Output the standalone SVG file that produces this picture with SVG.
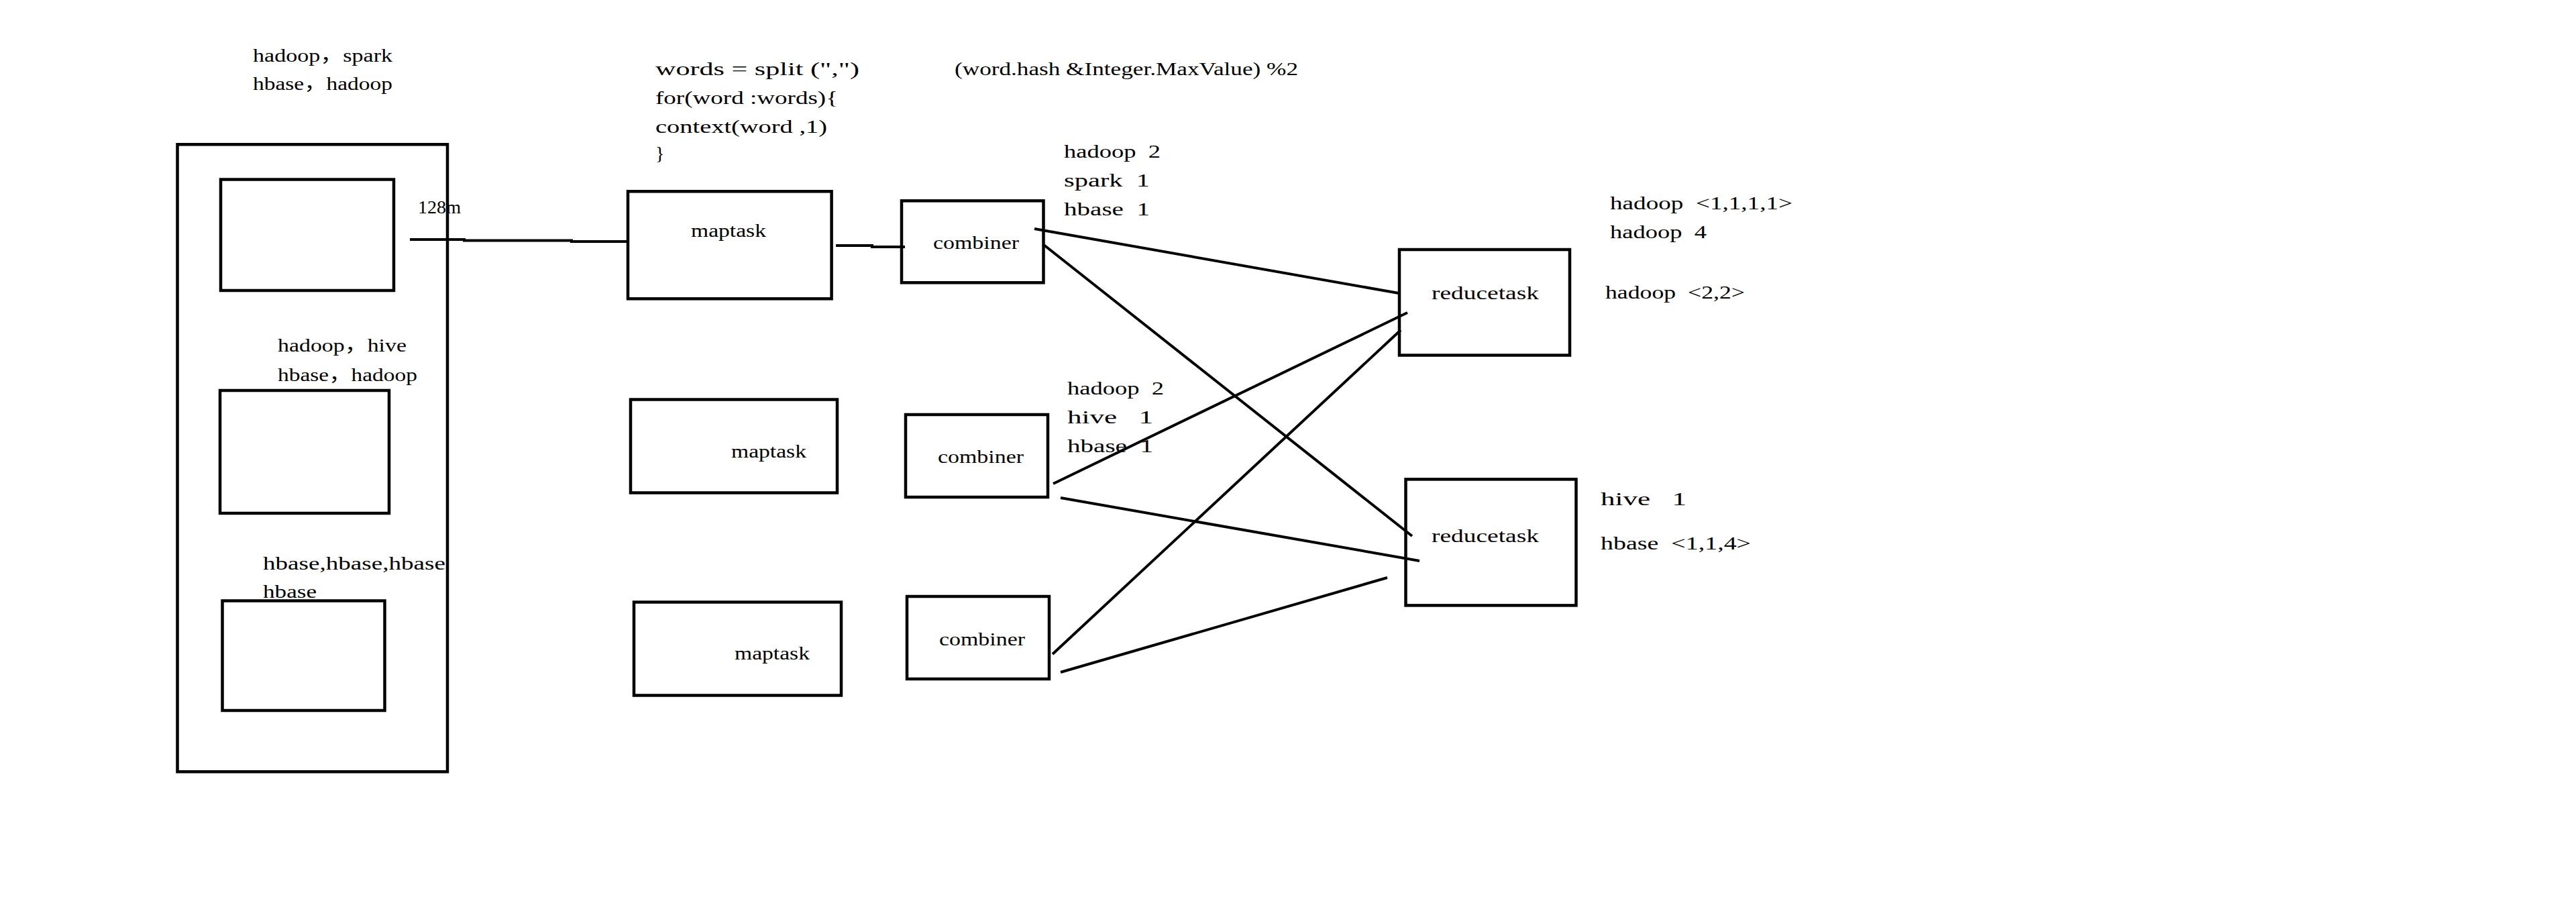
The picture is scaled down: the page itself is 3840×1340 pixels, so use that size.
<svg xmlns="http://www.w3.org/2000/svg" width="3840" height="1340" viewBox="0 0 3840 1340">
<style>
.box{fill:none;stroke:#000;stroke-width:4.5}
.ln{fill:none;stroke:#000;stroke-width:4;stroke-linecap:butt}
.t{font-family:"Liberation Serif","Noto Sans CJK SC",serif;font-size:28px;fill:#000;white-space:pre}
</style>
<rect x="0" y="0" width="3840" height="1340" fill="#fff"/>
<g id="hdfs-file">
<rect class="box" x="264.5" y="215.3" width="402.5" height="935"/>
</g>
<g id="block1">
<rect class="box" x="329" y="267.5" width="258" height="165.5"/>
<text class="t" x="377" y="92" textLength="208" lengthAdjust="spacingAndGlyphs">hadoop，spark</text>
<text class="t" x="377" y="134" textLength="208" lengthAdjust="spacingAndGlyphs">hbase，hadoop</text>
<text class="t" x="623" y="318" textLength="64" lengthAdjust="spacingAndGlyphs">128m</text>
</g>
<g id="block2">
<rect class="box" x="328" y="582" width="252" height="183"/>
<text class="t" x="414" y="524" textLength="192" lengthAdjust="spacingAndGlyphs">hadoop，hive</text>
<text class="t" x="414" y="568" textLength="208" lengthAdjust="spacingAndGlyphs">hbase，hadoop</text>
</g>
<g id="block3">
<rect class="box" x="331.5" y="895.5" width="242" height="163.5"/>
<text class="t" x="392" y="849" textLength="272" lengthAdjust="spacingAndGlyphs">hbase,hbase,hbase</text>
<text class="t" x="392" y="891" textLength="80" lengthAdjust="spacingAndGlyphs">hbase</text>
</g>
<g id="map-code">
<text class="t" x="977" y="112" textLength="304" lengthAdjust="spacingAndGlyphs">words = split (",")</text>
<text class="t" x="977" y="155" textLength="272" lengthAdjust="spacingAndGlyphs">for(word :words){</text>
<text class="t" x="977" y="198" textLength="256" lengthAdjust="spacingAndGlyphs">context(word ,1)</text>
<text class="t" x="977" y="238">}</text>
<text class="t" x="1423" y="112" textLength="512" lengthAdjust="spacingAndGlyphs">(word.hash &amp;Integer.MaxValue) %2</text>
</g>
<g id="maptask1">
<rect class="box" x="936" y="285.3" width="303.6" height="160"/>
<text class="t" x="1030" y="353" textLength="112" lengthAdjust="spacingAndGlyphs">maptask</text>
</g>
<g id="maptask2">
<rect class="box" x="940" y="595.5" width="308" height="139"/>
<text class="t" x="1090" y="682" textLength="112" lengthAdjust="spacingAndGlyphs">maptask</text>
</g>
<g id="maptask3">
<rect class="box" x="945" y="897.5" width="309" height="139"/>
<text class="t" x="1095" y="983" textLength="112" lengthAdjust="spacingAndGlyphs">maptask</text>
</g>
<g id="combiner1">
<rect class="box" x="1344" y="299.3" width="211.5" height="122"/>
<text class="t" x="1391" y="371" textLength="128" lengthAdjust="spacingAndGlyphs">combiner</text>
<text class="t" x="1586" y="235" textLength="144" lengthAdjust="spacingAndGlyphs">hadoop  2</text>
<text class="t" x="1586" y="278" textLength="128" lengthAdjust="spacingAndGlyphs">spark  1</text>
<text class="t" x="1586" y="321" textLength="128" lengthAdjust="spacingAndGlyphs">hbase  1</text>
</g>
<g id="combiner2">
<rect class="box" x="1350" y="618" width="212" height="123"/>
<text class="t" x="1398" y="690" textLength="128" lengthAdjust="spacingAndGlyphs">combiner</text>
<text class="t" x="1591" y="588" textLength="144" lengthAdjust="spacingAndGlyphs">hadoop  2</text>
<text class="t" x="1591" y="631" textLength="128" lengthAdjust="spacingAndGlyphs">hive   1</text>
<text class="t" x="1591" y="674" textLength="128" lengthAdjust="spacingAndGlyphs">hbase  1</text>
</g>
<g id="combiner3">
<rect class="box" x="1352" y="889" width="212" height="123"/>
<text class="t" x="1400" y="962" textLength="128" lengthAdjust="spacingAndGlyphs">combiner</text>
</g>
<g id="reducetask1">
<rect class="box" x="2086" y="372" width="254" height="157.5"/>
<text class="t" x="2134" y="446" textLength="160" lengthAdjust="spacingAndGlyphs">reducetask</text>
<text class="t" x="2400" y="312" textLength="272" lengthAdjust="spacingAndGlyphs">hadoop  &lt;1,1,1,1&gt;</text>
<text class="t" x="2400" y="355" textLength="144" lengthAdjust="spacingAndGlyphs">hadoop  4</text>
<text class="t" x="2393" y="445" textLength="208" lengthAdjust="spacingAndGlyphs">hadoop  &lt;2,2&gt;</text>
</g>
<g id="reducetask2">
<rect class="box" x="2095.5" y="714.4" width="254" height="188"/>
<text class="t" x="2134" y="808" textLength="160" lengthAdjust="spacingAndGlyphs">reducetask</text>
<text class="t" x="2386" y="753" textLength="128" lengthAdjust="spacingAndGlyphs">hive   1</text>
<text class="t" x="2386" y="819" textLength="224" lengthAdjust="spacingAndGlyphs">hbase  &lt;1,1,4&gt;</text>
</g>
<g id="connectors">
<polyline class="ln" points="611,357 692,357 692,358.5 852,358.5 852,360 936,360"/>
<polyline class="ln" points="1246,366 1300,366 1300,368 1349,368"/>
<line class="ln" x1="1542" y1="341" x2="2085" y2="437"/>
<line class="ln" x1="1556" y1="365" x2="2105" y2="799"/>
<line class="ln" x1="1570" y1="721" x2="2098" y2="466"/>
<line class="ln" x1="1581" y1="742" x2="2116" y2="836"/>
<line class="ln" x1="1569" y1="975" x2="2088" y2="492"/>
<line class="ln" x1="1581" y1="1002" x2="2068" y2="861"/>
</g>
</svg>
